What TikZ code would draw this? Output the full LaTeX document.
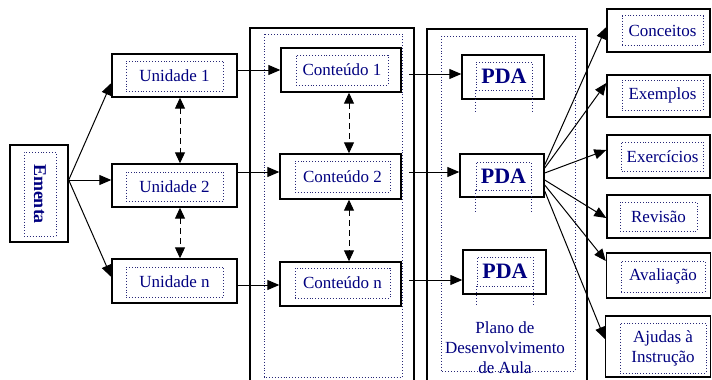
\documentclass[tikz,border=0pt]{standalone}
\usepackage{fontspec}
\setmainfont{Liberation Serif}
\usetikzlibrary{arrows.meta}
\definecolor{navytext}{RGB}{0,0,128}
\definecolor{dotblue}{RGB}{40,40,120}
\begin{document}
\begin{tikzpicture}[x=1pt,y=-1pt,
  outerbox/.style={draw=black,line width=1.4pt,inner sep=0pt,fill=white},
  innerbox/.style={draw=dotblue,dotted,line width=0.9pt,inner sep=0pt,text=navytext,
     font=\fontsize{17}{20}\selectfont,align=center},
  pdabox/.style={innerbox,font=\fontsize{22}{24}\selectfont\bfseries},
  leg/.style={draw=dotblue,dotted,line width=0.9pt},
  arr/.style={-{Triangle[length=12pt,width=10pt]},line width=1pt},
  darr/.style={{Triangle[length=11pt,width=10pt]}-{Triangle[length=11pt,width=10pt]},
     line width=1pt,dash pattern=on 6pt off 4pt},
  container/.style={line width=1.4pt},
  dotframe/.style={draw=dotblue,dotted,line width=0.9pt},
  plain/.style={text=navytext,font=\fontsize{17}{20}\selectfont,align=center,inner sep=0pt}
]
\useasboundingbox (0,0) rectangle (712,380);
\fill[white] (0,0) rectangle (712,380);

% containers
\draw[container] (250,381) -- (250,28) -- (414,28) -- (414,381);
\draw[dotframe] (264,34) rectangle (402,377);
\draw[container] (427,381) -- (427,29) -- (587,29) -- (587,381);
\draw[dotframe] (441,36) rectangle (575,371);

% Ementa
\node[outerbox,minimum width=58pt,minimum height=97pt] (em) at (39,193.5) {};
\node[innerbox,rotate=-90,minimum width=84pt,minimum height=32pt,
      font=\fontsize{18}{20}\selectfont\bfseries] (emt) at (40,194) {Ementa};

% Unidades
\node[outerbox,minimum width=125pt,minimum height=43pt] (u1) at (174.5,75.5) {};
\node[innerbox,minimum width=97pt,minimum height=30pt] (u1t) at (174.5,76) {Unidade 1};
\node[outerbox,minimum width=125pt,minimum height=43pt] (u2) at (174.5,185.5) {};
\node[innerbox,minimum width=97pt,minimum height=29pt] (u2t) at (174.5,186.5) {Unidade 2};
\node[outerbox,minimum width=125pt,minimum height=44pt] (un) at (174.5,281) {};
\node[innerbox,minimum width=97pt,minimum height=30pt] (unt) at (174.5,282) {Unidade n};

% Conteudos
\node[outerbox,minimum width=120pt,minimum height=44pt] (c1) at (341,70) {};
\node[innerbox,minimum width=92pt,minimum height=30pt] (c1t) at (342,70) {Conteúdo 1};
\node[outerbox,minimum width=121pt,minimum height=45pt] (c2) at (340.5,176.5) {};
\node[innerbox,minimum width=95pt,minimum height=31pt] (c2t) at (342.5,176.5) {Conteúdo 2};
\node[outerbox,minimum width=121pt,minimum height=44pt] (cn) at (340.5,284) {};
\node[innerbox,minimum width=95pt,minimum height=30pt] (cnt) at (342.5,283) {Conteúdo n};

% PDAs
\node[outerbox,minimum width=82pt,minimum height=44pt] (p1) at (503,77) {};
\node[pdabox,minimum width=56pt,minimum height=28pt] (p1t) at (504,76) {PDA};
\draw[leg] (p1t.south west) -- ++(0,22);
\draw[leg] (p1t.south east) -- ++(0,22);
\node[outerbox,minimum width=84pt,minimum height=43pt] (p2) at (502,175.5) {};
\node[pdabox,minimum width=55pt,minimum height=28pt] (p2t) at (503.5,176) {PDA};
\draw[leg] (p2t.south west) -- ++(0,23);
\draw[leg] (p2t.south east) -- ++(0,23);
\node[outerbox,minimum width=83pt,minimum height=44pt] (pn) at (504.5,272) {};
\node[pdabox,minimum width=56pt,minimum height=29pt] (pnt) at (505,271.5) {PDA};
\draw[leg] (pnt.south west) -- ++(0,20);
\draw[leg] (pnt.south east) -- ++(0,20);
\node[plain] (plano) at (505,347.5) {Plano de\\Desenvolvimento\\de Aula};

% right column
\node[outerbox,minimum width=103pt,minimum height=43pt] (r1) at (658.5,30.5) {};
\node[innerbox,minimum width=81pt,minimum height=30pt] (r1t) at (662.5,30.5) {Conceitos};
\node[outerbox,minimum width=103pt,minimum height=42pt] (r2) at (658.5,96) {};
\node[innerbox,minimum width=81pt,minimum height=30pt] (r2t) at (662.5,95) {Exemplos};
\node[outerbox,minimum width=103pt,minimum height=43pt] (r3) at (658.5,156.5) {};
\node[innerbox,minimum width=82pt,minimum height=29pt] (r3t) at (662.5,156.5) {Exercícios};
\node[outerbox,minimum width=103pt,minimum height=43pt] (r4) at (658.5,216.5) {};
\node[innerbox,minimum width=77pt,minimum height=29pt] (r4t) at (658.5,216.5) {Revisão};
\node[outerbox,minimum width=104pt,minimum height=45pt] (r5) at (658.5,275.5) {};
\node[innerbox,minimum width=84pt,minimum height=31pt] (r5t) at (663,276.5) {Avaliação};
\node[outerbox,minimum width=105pt,minimum height=61pt] (r6) at (658,346.5) {};
\node[innerbox,minimum width=86pt,minimum height=50pt] (r6t) at (663,348) {Ajudas à\\Instrução};

% Ementa -> Unidades
\draw[arr] (em.east |- 0,180) -- (u1.west |- 0,83);
\draw[arr] (em.east |- 0,180) -- (u2.west |- 0,180);
\draw[arr] (em.east |- 0,180) -- (un.west |- 0,277);
\draw[darr] (u1.south -| 180,0) -- (u2.north -| 180,0);
\draw[darr] (u2.south -| 180,0) -- (un.north -| 180,0);

% Unidades -> Conteudos
\draw[arr] (u1.east |- 0,70) -- (c1.west |- 0,70);
\draw[arr] (u2.east |- 0,172) -- (c2.west |- 0,172);
\draw[arr] (un.east |- 0,285) -- (cn.west |- 0,285);
\draw[darr] (c1.south -| 349,0) -- (c2.north -| 349,0);
\draw[darr] (c2.south -| 349,0) -- (cn.north -| 349,0);

% Conteudos -> PDA
\coordinate (s1) at (409,74);
\coordinate (s2) at (409,172);
\coordinate (s3) at (409,280);
\draw[arr] (s1) -- (p1.west |- s1);
\draw[arr] (s2) -- (p2.west |- s2);
\draw[arr] (s3) -- (pn.west |- s3);

% PDA -> items
\draw[arr] (p2.east |- 0,165) -- (r1.west |- 0,27);
\draw[arr] (p2.east |- 0,168) -- (r2.west |- 0,83);
\draw[arr] (p2.east |- 0,173) -- (r3.west |- 0,150);
\draw[arr] (p2.east |- 0,180) -- (r4.west |- 0,218);
\draw[arr] (p2.east |- 0,185) -- (r5.west |- 0,261);
\draw[arr] (p2.east |- 0,191) -- (r6.west |- 0,339);
\end{tikzpicture}
\end{document}
